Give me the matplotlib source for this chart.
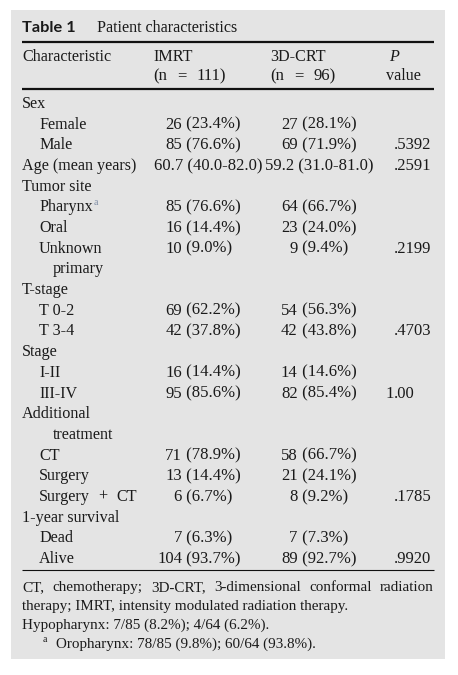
import matplotlib
matplotlib.use("Agg")
import matplotlib.pyplot as plt
from matplotlib.patches import Rectangle

# ---------------- data ----------------
title_bold = "Table 1"
title_text = "Patient characteristics"
col_headers = ["Characteristic", "IMRT", "3D-CRT", "P"]
col_sub = ["", "(n = 111)", "(n = 96)", "value"]

row_labels = ["Sex", "Female", "Male", "Age (mean years)", "Tumor site",
              "Pharynx", "Oral", "Unknown", "primary", "T-stage", "T 0-2",
              "T 3-4", "Stage", "I-II", "III-IV", "Additional", "treatment",
              "CT", "Surgery", "Surgery + CT", "1-year survival", "Dead", "Alive"]
row_indent = [0, 1, 1, 0, 0, 1, 1, 1, 2, 0, 1, 1, 0, 1, 1, 0, 2, 1, 1, 1, 0, 1, 1]
row_sup = ["", "", "", "", "", "a", "", "", "", "", "", "", "", "", "", "", "",
           "", "", "", "", "", ""]

imrt_vals = ["", "26 (23.4%)", "85 (76.6%)", "60.7 (40.0-82.0)", "",
             "85 (76.6%)", "16 (14.4%)", "10 (9.0%)", "", "", "69 (62.2%)",
             "42 (37.8%)", "", "16 (14.4%)", "95 (85.6%)", "", "",
             "71 (78.9%)", "13 (14.4%)", "6 (6.7%)", "", "7 (6.3%)", "104 (93.7%)"]
crt_vals = ["", "27 (28.1%)", "69 (71.9%)", "59.2 (31.0-81.0)", "",
            "64 (66.7%)", "23 (24.0%)", "9 (9.4%)", "", "", "54 (56.3%)",
            "42 (43.8%)", "", "14 (14.6%)", "82 (85.4%)", "", "",
            "58 (66.7%)", "21 (24.1%)", "8 (9.2%)", "", "7 (7.3%)", "89 (92.7%)"]
p_vals = ["", "", ".5392", ".2591", "", "", "", ".2199", "", "", "",
          ".4703", "", "", "1.00", "", "", "", "", ".1785", "", "", ".9920"]

foot_line1 = "CT, chemotherapy; 3D-CRT, 3-dimensional conformal radiation"
foot_line2 = "therapy; IMRT, intensity modulated radiation therapy."
foot_line3 = "Hypopharynx: 7/85 (8.2%); 4/64 (6.2%)."
foot_sup = "a"
foot_line4 = "Oropharynx: 78/85 (9.8%); 60/64 (93.8%)."

# ---------------- style ----------------
W, H = 458, 675
SERIF = ["Liberation Serif", "DejaVu Serif"]
FS = 11.6
FS_VAL = 12.0
FS_FOOT = 10.9
TXT = "#1a1a1a"
BG = "#e4e4e4"

fig = plt.figure(figsize=(W / 100, H / 100), dpi=100)
ax = fig.add_axes([0, 0, 1, 1])
ax.set_xlim(0, W)
ax.set_ylim(H, 0)
ax.axis("off")
fig.patch.set_facecolor("white")

ax.add_patch(Rectangle((11, 10), 434, 649, facecolor=BG, edgecolor="none"))

renderer = fig.canvas.get_renderer()


def txt(x, y, s, size=FS, ha="left", **kw):
    kw.setdefault("family", SERIF)
    kw.setdefault("color", TXT)
    return ax.text(x, y, s, fontsize=size, ha=ha, va="baseline", **kw)


def width(t):
    return t.get_window_extent(renderer=renderer).width


def spaced(x, y, s, gap, op, size=FS):
    """Draw text with wide spacing around a binary operator token."""
    toks = s.split(" ")
    for tk in toks:
        t = txt(x, y, tk, size=size)
        g = gap if (tk == op or (toks.index(tk) + 1 < len(toks) and toks[toks.index(tk) + 1] == op)) else 4
        x += width(t) + g


# title
txt(22, 32, title_bold, size=11.8, family=["Lato", "DejaVu Sans"], weight="bold")
txt(97, 32, title_text, size=FS)

# rules
LX0, LX1 = 22, 434
ax.plot([LX0, LX1], [41.5, 41.5], color="#111111", lw=1.6, solid_capstyle="butt")
ax.plot([LX0, LX1], [88.5, 88.5], color="#111111", lw=1.6, solid_capstyle="butt")
ax.plot([LX0, LX1], [570, 570], color="#111111", lw=0.8, solid_capstyle="butt")

# header
hx = [22, 153, 270, 388]
for i, h in enumerate(col_headers):
    if h == "P":
        txt(hx[i] + 1, 61, h, style="italic")
    else:
        txt(hx[i], 61, h)
for i, h in enumerate(col_sub):
    if not h:
        continue
    if "=" in h:
        spaced(hx[i], 80, h, 10, "=", size=FS_VAL)
    else:
        txt(hx[i] - 2, 80, h)

# body
y0, dy = 108, 20.68
indent_x = [22, 39, 53]
col_left = [154, 265]
count_right = [182, 297.5]
p_dec_x = 394

for i, lab in enumerate(row_labels):
    y = y0 + i * dy
    lx = indent_x[row_indent[i]]
    if " + " in lab:
        spaced(lx, y, lab, 8.5, "+")
    else:
        t = txt(lx, y, lab)
        if row_sup[i]:
            w = width(t)
            txt(lx + w + 0.8, y - 6.5, row_sup[i], size=7, color="#7d8ca5")
    for j, val in enumerate((imrt_vals[i], crt_vals[i])):
        if not val:
            continue
        head, rest = val.split(" ", 1)
        if "-" in rest:
            # mean (range) cells are set flush left in the column
            txt(col_left[j], y, val, size=FS_VAL)
        else:
            txt(count_right[j], y, head, ha="right", size=FS_VAL)
            txt(count_right[j], y, " " + rest, size=FS_VAL)
    pv = p_vals[i]
    if pv:
        ip, fp = pv.split(".", 1)
        if ip:
            txt(p_dec_x, y, ip, ha="right", size=FS_VAL)
        txt(p_dec_x, y, "." + fp, size=FS_VAL)

# footnotes
fy0, fdy = 591, 18.8
words = foot_line1.split(" ")
tw = [txt(0, fy0, w, size=FS_FOOT) for w in words]
widths = [width(t) for t in tw]
gap = (LX1 - 22 - sum(widths)) / (len(words) - 1)
x = 22
for t, w in zip(tw, widths):
    t.set_x(x)
    x += w + gap
txt(22, fy0 + fdy, foot_line2, size=FS_FOOT)
txt(22, fy0 + 2 * fdy, foot_line3, size=FS_FOOT)
txt(43, fy0 + 3 * fdy - 5, foot_sup, size=7)
txt(56, fy0 + 3 * fdy, foot_line4, size=FS_FOOT)

fig.savefig("out.png", dpi=100, facecolor="white")
